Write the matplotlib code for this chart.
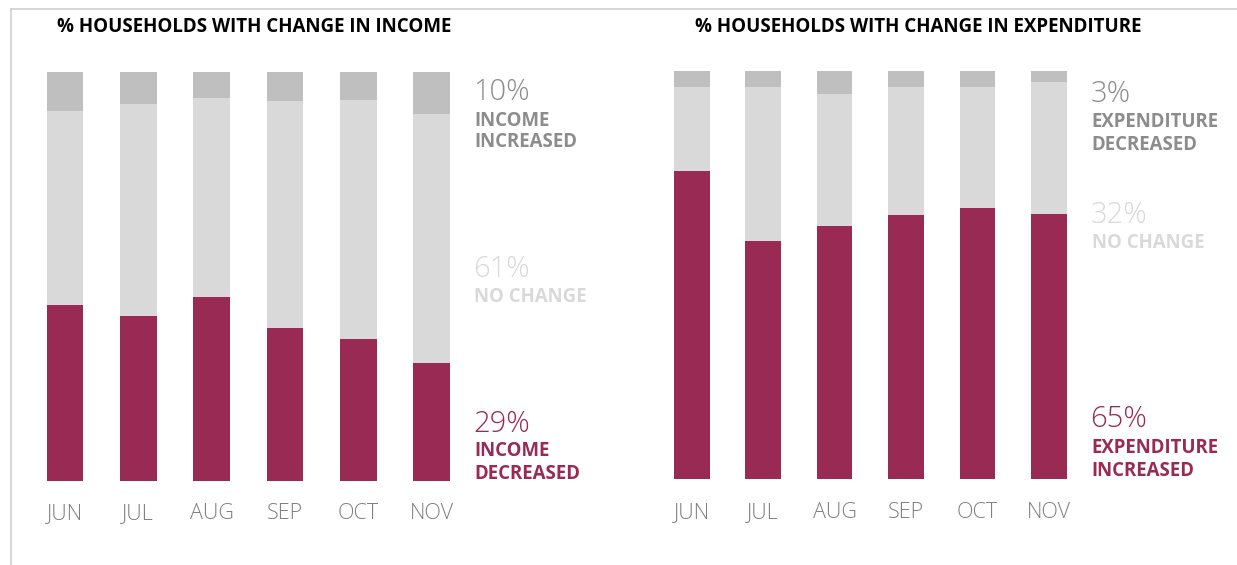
import matplotlib
matplotlib.use("Agg")
import matplotlib.pyplot as plt
from matplotlib.lines import Line2D

months = ["JUN", "JUL", "AUG", "SEP", "OCT", "NOV"]

income_decreased = [43.1, 40.4, 45.0, 37.4, 34.8, 28.9]
income_increased = [9.5, 7.8, 6.3, 7.0, 6.8, 10.2]
income_nochange = [100 - d - i for d, i in zip(income_decreased, income_increased)]

exp_increased = [75.5, 58.4, 62.0, 64.7, 66.5, 64.9]
exp_decreased = [4.0, 4.0, 5.6, 3.9, 3.8, 2.6]
exp_nochange = [100 - a - b for a, b in zip(exp_increased, exp_decreased)]

RED = "#982A54"
LIGHT = "#D9D9D9"
DARK = "#BFBFBF"
GREY_TXT = "#8C8C8C"
MONTH_TXT = "#7F7F7F"

W, H = 1237, 565
fig = plt.figure(figsize=(W / 100, H / 100), dpi=100)
fig.patch.set_facecolor("white")

FONT = "Open Sans"


def px_axes(x0, x1, ytop, ybot):
    return fig.add_axes([x0 / W, 1 - ybot / H, (x1 - x0) / W, (ybot - ytop) / H])


def draw(ax, bottom_vals, mid_vals, top_vals, width):
    x = list(range(len(months)))
    ax.bar(x, bottom_vals, width=width, color=RED, linewidth=0)
    ax.bar(x, mid_vals, width=width, bottom=bottom_vals, color=LIGHT, linewidth=0)
    b2 = [a + b for a, b in zip(bottom_vals, mid_vals)]
    ax.bar(x, top_vals, width=width, bottom=b2, color=DARK, linewidth=0)
    ax.set_xlim(-0.5, len(months) - 0.5)
    ax.set_ylim(0, 100)
    ax.set_xticks(x)
    ax.set_xticklabels(months, fontsize=15.5, color=MONTH_TXT, family=FONT, fontweight="light")
    ax.tick_params(axis="x", length=0, pad=16)
    ax.set_yticks([])
    for s in ax.spines.values():
        s.set_visible(False)
    ax.patch.set_alpha(0)


ax1 = px_axes(28.3, 468.4, 72.3, 481.2)
draw(ax1, income_decreased, income_nochange, income_increased, 0.5)

ax2 = px_axes(656.1, 1084.5, 71, 479.3)
draw(ax2, exp_increased, exp_nochange, exp_decreased, 0.5)

# titles
fig.text(254.5 / W, 1 - 26.7 / H, "% HOUSEHOLDS WITH CHANGE IN INCOME", ha="center", va="center",
         fontsize=13.5, fontweight="bold", family=FONT, color="black")
fig.text(918 / W, 1 - 26.7 / H, "% HOUSEHOLDS WITH CHANGE IN EXPENDITURE", ha="center", va="center",
         fontsize=13.5, fontweight="bold", family=FONT, color="black")


def pct(x, y, s, c):
    fig.text(x / W, 1 - y / H, s, ha="left", va="center", fontsize=21,
             family=FONT, fontweight="light", color=c)


def lab(x, y, s, c):
    fig.text(x / W, 1 - y / H, s, ha="left", va="center", fontsize=13.4,
             family=FONT, fontweight="bold", color=c)


# left annotations
pct(473, 92.5, "10%", GREY_TXT)
lab(474, 120.5, "INCOME", GREY_TXT)
lab(474, 142, "INCREASED", GREY_TXT)
pct(473, 269.5, "61%", LIGHT)
lab(474, 297, "NO CHANGE", LIGHT)
pct(473, 424.5, "29%", RED)
lab(474, 451, "INCOME", RED)
lab(474, 474, "DECREASED", RED)

# right annotations
pct(1090.5, 94.5, "3%", GREY_TXT)
lab(1091.5, 122, "EXPENDITURE", GREY_TXT)
lab(1091.5, 144.5, "DECREASED", GREY_TXT)
pct(1090.5, 215.5, "32%", LIGHT)
lab(1091.5, 243, "NO CHANGE", LIGHT)
pct(1090.5, 419.5, "65%", RED)
lab(1091.5, 448, "EXPENDITURE", RED)
lab(1091.5, 471, "INCREASED", RED)

# frame lines
fig.add_artist(Line2D([11 / W, 1], [1 - 9 / H, 1 - 9 / H], color="#CFCFCF", lw=1.2))
fig.add_artist(Line2D([11 / W, 11 / W], [0, 1 - 9 / H], color="#CFCFCF", lw=1.2))

fig.savefig("out.png", dpi=100, facecolor="white")
